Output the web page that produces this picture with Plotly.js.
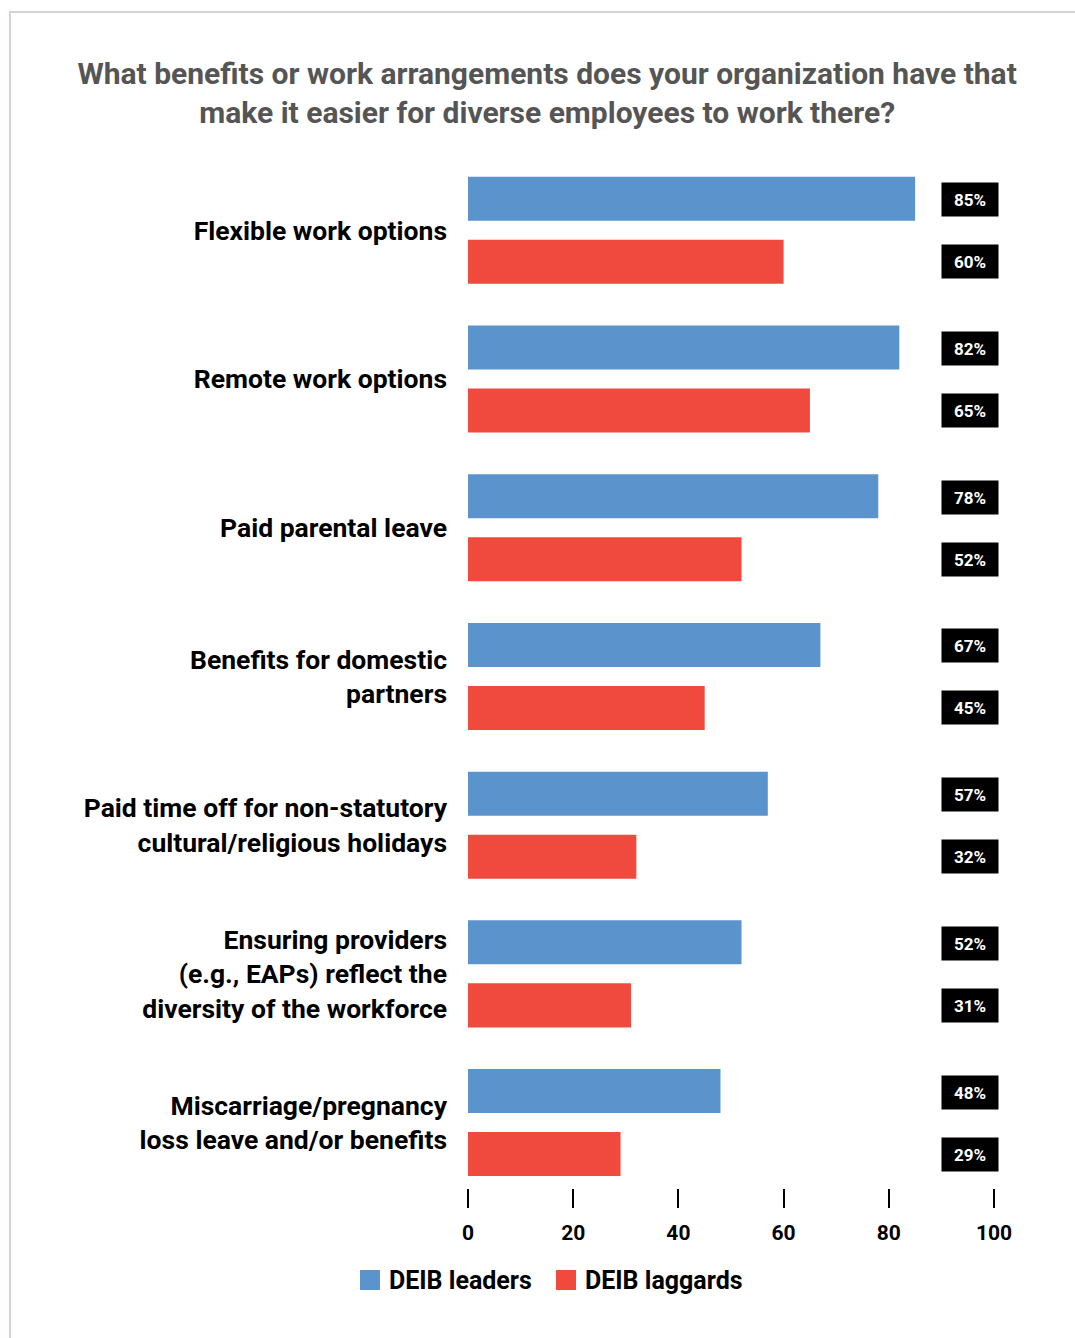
<!DOCTYPE html>
<html>
<head>
<meta charset="utf-8">
<script src="https://cdn.plot.ly/plotly-3.0.1.min.js"></script>
<style>
  html, body { margin: 0; padding: 0; background: #ffffff; }
  #wrap { position: relative; width: 1075px; height: 1338px; overflow: hidden; }
  #chart { position: absolute; left: 0; top: 0; width: 1075px; height: 1338px; }
  #frame { position: absolute; left: 9px; top: 11px; width: 1080px; height: 1340px;
           border-left: 2px solid #d9d1d1; border-top: 2px solid #d9d1d1; pointer-events: none; }
</style>
</head>
<body>
<div id="wrap">
  <div id="chart"></div>
  <div id="frame"></div>
</div>
<script>
// ---- data ----
const categories = [
  "Flexible work options",
  "Remote work options",
  "Paid parental leave",
  "Benefits for domestic<br>partners",
  "Paid time off for non-statutory<br>cultural/religious holidays",
  "Ensuring providers<br>(e.g., EAPs) reflect the<br>diversity of the workforce",
  "Miscarriage/pregnancy<br>loss leave and/or benefits"
];
const seriesNames = ["DEIB leaders", "DEIB laggards"];
const leaders = [85, 82, 78, 67, 57, 52, 48];
const laggards = [60, 65, 52, 45, 32, 31, 29];
const xTicks = [0, 20, 40, 60, 80, 100];
const titleText = "What benefits or work arrangements does your organization have that<br>make it easier for diverse employees to work there?";

// ---- style ----
const FONT = "Roboto, 'Noto Sans', sans-serif";
const BLUE = "#5b93cd";
const RED = "#f04a3e";
const W = 1075, H = 1338;
const M = { l: 468, r: 81, t: 156, b: 150 };
const PW = W - M.l - M.r, PH = H - M.t - M.b;
const px2x = px => (px - M.l) / PW;
const py2y = py => (H - M.b - py) / PH;

const traces = [
  { type: "bar", orientation: "h", name: seriesNames[0], y: categories, x: leaders,
    marker: { color: BLUE }, hoverinfo: "skip", showlegend: false },
  { type: "bar", orientation: "h", name: seriesNames[1], y: categories, x: laggards,
    marker: { color: RED }, hoverinfo: "skip", showlegend: false }
];

const annotations = [];
const labelX = 95.4;
[leaders, laggards].forEach((vals, si) => {
  vals.forEach((v, i) => {
    annotations.push({
      xref: "x", yref: "y", x: labelX, y: categories[i],
      yshift: si === 0 ? 30.5 : -31.5,
      text: "<b>" + v + "%</b>", showarrow: false,
      font: { family: FONT, size: 17, color: "#ffffff" },
      bgcolor: "#000000", width: 50, height: 27, borderpad: 3,
      xanchor: "center", yanchor: "middle"
    });
  });
});

// manual legend
const legendItems = [
  { name: seriesNames[0], color: BLUE, sq: 360, tx: 387 },
  { name: seriesNames[1], color: RED, sq: 556, tx: 583 }
];
const shapes = [];
legendItems.forEach(it => {
  shapes.push({ type: "rect", xref: "paper", yref: "paper",
    x0: px2x(it.sq), x1: px2x(it.sq + 20), y0: py2y(1290), y1: py2y(1270),
    fillcolor: it.color, line: { width: 0 } });
  annotations.push({ xref: "paper", yref: "paper", x: px2x(it.tx), y: py2y(1280),
    xanchor: "left", yanchor: "middle", showarrow: false,
    text: "<b>" + it.name + "</b>", font: { family: FONT, size: 25, color: "#000000" } });
});

const layout = {
  width: W, height: H,
  margin: M,
  paper_bgcolor: "rgba(0,0,0,0)", plot_bgcolor: "rgba(0,0,0,0)",
  font: { family: FONT, color: "#000000" },
  title: { text: "<b>" + titleText + "</b>", x: 0.509, xanchor: "center", xref: "container",
           y: 1 - 84 / H, yanchor: "middle", yref: "container",
           font: { family: FONT, size: 30, color: "#555555" } },
  barmode: "group", bargap: 0.1525, bargroupgap: 0.3016,
  showlegend: false,
  xaxis: { range: [0, 100], tickvals: xTicks, ticktext: xTicks.map(String),
           ticks: "outside", ticklen: 19, tickwidth: 2, tickcolor: "#000000",
           showgrid: false, zeroline: false, showline: false,
           tickfont: { family: FONT, size: 21, color: "#000000", weight: "bold" },
           ticklabelstandoff: 7, fixedrange: true },
  yaxis: { type: "category", range: [6.44, -0.5], ticks: "", showgrid: false,
           zeroline: false, showline: false,
           tickfont: { family: FONT, size: 26.5, color: "#000000", weight: "bold" },
           ticklabelstandoff: 20, fixedrange: true },
  annotations: annotations,
  shapes: shapes
};

Plotly.newPlot("chart", traces, layout, { displayModeBar: false, staticPlot: true });
</script>
</body>
</html>
